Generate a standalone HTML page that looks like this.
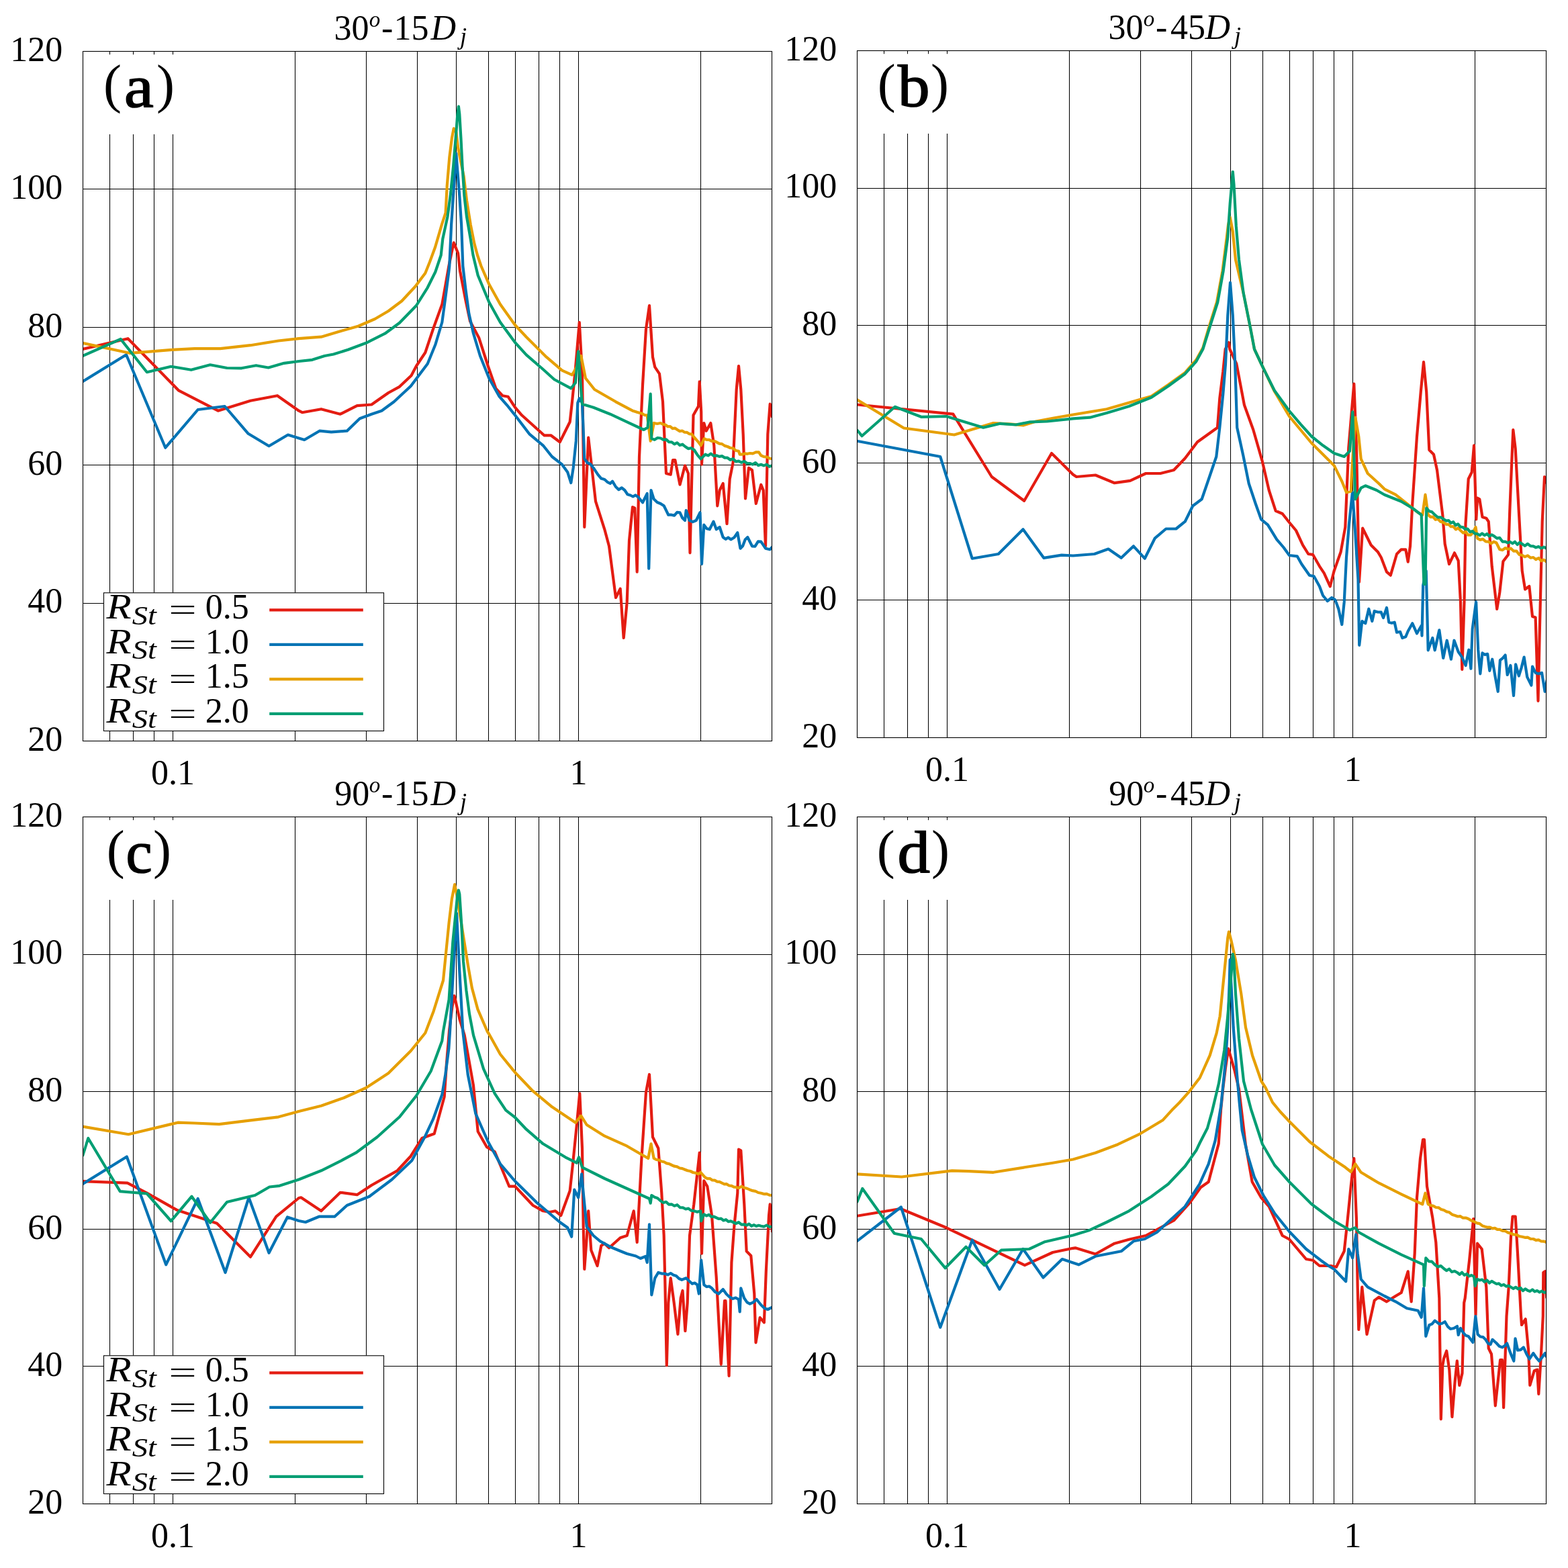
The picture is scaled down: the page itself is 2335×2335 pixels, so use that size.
<!DOCTYPE html><html><head><meta charset="utf-8"><style>html,body{margin:0;padding:0;background:#fff;overflow:hidden}svg{display:block}.t{font-family:'Liberation Serif',serif;font-size:52px;fill:#000} .i{font-style:italic} .lab{font-family:'Liberation Serif',serif;font-size:81px;fill:#000}</style></head><body>
<svg width="2335" height="2335" viewBox="0 0 2335 2335">
<rect width="100%" height="100%" fill="#fff"/>
<defs>
<clipPath id="clipa"><rect x="123.5" y="76.5" width="1026.0" height="1027.0"/></clipPath>
<clipPath id="clipb"><rect x="1276.5" y="75.5" width="1026.0" height="1023.0"/></clipPath>
<clipPath id="clipc"><rect x="123.5" y="1216.5" width="1026.0" height="1023.0"/></clipPath>
<clipPath id="clipd"><rect x="1276.5" y="1216.5" width="1026.0" height="1023.0"/></clipPath>
</defs>
<path d="M163.5 200.0V882.8M163.5 1088.5V1103.5M163.5 76.5V81.2M198.5 200.0V882.8M198.5 1088.5V1103.5M198.5 76.5V81.2M229.5 200.0V882.8M229.5 1088.5V1103.5M229.5 76.5V81.2M257.5 200.0V882.8M257.5 1088.5V1103.5M257.5 76.5V81.2M439.5 76.5V882.8M439.5 1088.5V1103.5M545.5 76.5V882.8M545.5 1088.5V1103.5M621.5 76.5V1103.5M679.5 76.5V1103.5M727.5 76.5V1103.5M767.5 76.5V1103.5M802.5 76.5V1103.5M833.5 76.5V1103.5M861.5 76.5V1103.5M1043.5 76.5V1103.5M123.5 898.5H154.5M571.5 898.5H1149.5M123.5 692.5H1149.5M123.5 487.5H1149.5M123.5 281.5H1149.5" stroke="#000" stroke-width="1.05" fill="none"/>
<g clip-path="url(#clipa)" fill="none" stroke-width="4.2" stroke-linejoin="round" stroke-linecap="butt">
<path d="M123.0,520.0 190.5,504.2 266.3,581.7 324.7,611.7 373.0,596.7 413.0,589.2 445.0,611.7 450.0,614.2 478.3,609.2 506.7,616.7 531.7,604.2 553.3,602.5 578.3,585.0 595.0,575.8 612.5,559.2 620.0,545.0 633.3,525.0 645.0,490.0 658.3,453.3 663.3,425.0 668.3,396.7 671.7,380.0 675.7,361.4 682.1,377.0 685.0,403.3 693.3,446.7 700.0,478.3 713.3,503.3 726.7,545.0 738.3,578.3 748.3,589.2 756.7,590.8 767.0,606.7 777.0,618.3 792.0,631.7 810.3,648.3 820.3,648.3 833.7,658.3 848.7,628.3 852.0,598.3 857.0,548.3 862.8,480.0 867.0,556.7 870.3,785.0 876.2,651.7 887.0,746.7 900.3,788.3 907.0,813.3 917.0,890.0 923.7,876.7 928.7,950.0 933.7,896.7 937.0,805.0 942.0,755.0 945.3,756.7 948.7,851.7 952.0,680.0 957.0,573.3 962.0,490.0 967.0,455.0 972.0,531.7 975.3,546.7 982.0,556.7 987.0,598.3 992.0,705.0 998.7,706.7 1002.0,685.0 1005.3,685.0 1012.5,721.7 1020.0,693.3 1025.0,705.0 1027.5,823.3 1032.5,618.3 1040.0,605.0 1041.7,568.3 1044.2,613.3 1045.0,691.7 1048.3,630.0 1051.7,641.7 1058.3,630.0 1063.3,663.3 1068.3,753.3 1071.7,730.0 1076.7,720.0 1082.5,780.0 1086.7,713.3 1091.7,688.3 1096.7,580.0 1100.0,545.0 1103.3,580.0 1106.7,646.7 1110.0,742.5 1115.0,696.7 1120.0,700.0 1125.8,750.0 1133.3,721.7 1136.7,730.0 1140.0,813.3 1143.3,646.7 1146.7,601.7 1150.0,621.7" stroke="#e41c12"/>
<path d="M123.0,568.3 188.0,528.3 246.3,666.7 294.7,610.0 334.7,605.0 369.7,645.8 400.5,664.2 428.8,647.5 445.0,652.5 453.3,655.0 475.8,641.7 493.3,643.3 516.7,641.7 535.8,623.3 553.3,616.7 568.3,611.7 586.7,598.3 611.7,575.0 636.7,541.7 648.3,513.3 658.3,480.0 663.3,443.3 668.3,405.0 669.3,396.0 672.1,334.3 675.0,291.4 677.9,248.6 679.3,228.6 681.4,255.7 684.3,291.4 687.1,334.3 689.3,396.0 693.3,430.0 698.3,466.7 705.0,496.7 715.0,530.0 728.3,563.3 743.3,590.0 755.0,603.3 767.0,618.3 788.7,646.7 808.7,663.3 822.0,680.0 837.0,691.7 845.3,703.3 850.3,719.0 853.7,696.7 857.8,656.7 860.3,600.0 862.8,593.3 867.0,600.0 870.3,683.0 874.8,689.2 879.2,691.1 883.7,696.7 890.3,706.7 895.3,712.6 900.3,714.0 904.5,717.8 908.7,720.0 912.0,716.7 917.0,725.0 921.4,729.1 925.9,726.4 930.3,730.0 934.5,736.2 938.7,737.5 942.6,739.5 946.4,737.4 950.3,740.0 957.0,748.3 963.7,735.0 966.2,846.7 969.5,730.0 973.7,743.3 978.7,748.0 983.7,750.0 988.7,753.3 995.3,766.7 1000.0,766.7 1004.2,767.6 1008.3,762.9 1012.5,763.3 1016.2,771.3 1020.0,775.0 1021.7,760.0 1026.7,775.0 1031.7,777.2 1036.7,775.0 1042.5,763.3 1045.0,840.0 1048.3,781.7 1052.5,787.3 1056.7,788.3 1062.5,776.7 1066.7,788.3 1071.7,785.0 1076.7,800.0 1080.6,802.9 1084.4,800.5 1088.3,803.3 1093.3,800.5 1098.3,793.3 1102.5,816.7 1106.1,813.0 1109.7,803.5 1113.3,800.0 1120.0,813.3 1124.4,813.6 1128.9,806.4 1133.3,806.7 1140.0,816.7 1146.7,818.3 1150.0,814.2" stroke="#0273b4"/>
<path d="M123.0,510.8 193.0,525.8 216.3,524.2 256.3,520.8 289.7,519.2 328.0,519.2 373.0,514.2 414.7,507.5 445.0,504.2 478.3,501.7 503.3,494.2 533.3,485.8 558.3,475.0 578.3,463.3 598.3,448.3 618.3,426.7 633.3,406.7 640.0,390.0 647.9,368.6 657.9,334.3 663.6,317.0 665.7,277.0 669.3,234.3 672.9,205.7 675.7,191.4 679.3,197.0 682.1,220.0 690.7,262.9 695.0,298.6 700.7,334.3 706.4,362.9 711.0,380.0 716.4,396.0 728.3,423.3 745.0,453.3 767.0,484.0 783.7,501.7 813.7,531.7 837.0,551.7 852.0,558.3 857.8,548.3 865.3,530.0 872.0,563.3 885.3,580.0 917.0,598.3 942.0,611.7 945.6,612.8 949.2,613.9 952.9,615.0 956.5,616.1 960.1,618.2 963.7,618.3 968.7,656.7 973.7,630.0 978.7,631.0 983.7,630.0 987.3,631.9 990.8,632.5 994.4,635.2 998.0,635.0 1001.6,638.1 1005.1,637.6 1008.7,640.0 1012.3,642.1 1015.9,641.5 1019.5,643.7 1023.1,643.9 1026.7,646.2 1030.3,646.7 1034.8,652.5 1039.2,657.3 1043.7,663.3 1048.7,653.3 1052.4,654.9 1056.0,654.8 1059.7,656.9 1063.3,656.8 1067.0,658.3 1071.1,660.6 1075.2,661.1 1079.2,663.9 1083.3,665.0 1087.5,667.0 1091.7,667.4 1095.8,671.0 1100.0,671.7 1101.7,676.7 1105.5,676.6 1109.2,675.4 1113.0,675.8 1116.7,675.0 1121.1,675.4 1125.6,673.4 1130.0,673.3 1133.3,678.3 1137.5,680.1 1141.7,680.3 1145.8,682.5 1150.0,683.3" stroke="#e69f00"/>
<path d="M123.0,530.0 179.7,505.0 218.8,554.2 254.7,545.8 284.7,550.8 313.0,543.3 338.0,548.0 359.7,548.3 381.3,544.2 399.7,547.5 423.0,540.8 445.0,538.0 465.0,535.8 483.3,530.0 496.7,527.5 518.3,520.8 545.0,510.8 573.3,496.7 595.0,480.8 620.0,455.0 636.7,428.3 648.3,405.0 656.7,380.0 659.3,355.7 666.4,322.9 670.7,291.4 675.0,248.6 678.6,205.7 681.4,170.0 682.9,158.6 684.3,170.0 686.4,205.7 688.6,248.6 691.4,291.4 695.0,322.9 700.7,355.7 704.5,380.0 711.7,410.0 728.3,450.0 745.0,480.0 767.0,510.0 783.7,528.3 808.7,550.0 825.3,565.0 850.3,578.3 857.0,570.0 861.2,523.3 865.3,581.7 867.0,601.7 883.7,606.7 908.7,616.7 933.7,628.3 958.7,640.0 964.5,636.7 968.7,586.7 970.3,653.3 974.8,654.8 979.2,652.0 983.7,652.5 987.9,654.8 992.0,654.4 996.1,658.1 1000.3,658.3 1004.3,661.4 1008.3,659.3 1012.3,663.1 1016.3,661.7 1020.3,665.0 1024.8,668.1 1029.2,667.2 1033.7,670.0 1038.7,677.6 1043.7,683.3 1050.3,676.7 1054.5,678.4 1058.7,675.6 1062.8,678.8 1067.0,678.3 1071.1,679.9 1075.2,679.1 1079.2,681.6 1083.3,681.7 1087.5,684.8 1091.7,683.2 1095.8,687.3 1100.0,686.7 1104.2,688.9 1108.3,686.8 1112.5,690.0 1116.7,690.0 1120.8,691.6 1125.0,689.1 1129.2,693.1 1133.3,691.7 1137.5,693.4 1141.7,691.6 1145.8,694.9 1150.0,693.3" stroke="#029e73"/>
</g>
<rect x="123.5" y="76.5" width="1026.0" height="1027.0" fill="none" stroke="#000" stroke-width="1.1"/>
<text x="93.3" y="1117.8" text-anchor="end" class="t">20</text>
<text x="93.3" y="912.4" text-anchor="end" class="t">40</text>
<text x="93.3" y="707.0" text-anchor="end" class="t">60</text>
<text x="93.3" y="501.6" text-anchor="end" class="t">80</text>
<text x="93.3" y="296.2" text-anchor="end" class="t">100</text>
<text x="93.3" y="90.8" text-anchor="end" class="t">120</text>
<text x="257.5" y="1168.2" text-anchor="middle" class="t">0.1</text>
<text x="861.4" y="1168.2" text-anchor="middle" class="t">1</text>
<text x="497.4" y="59.2" class="t">30</text>
<text x="549.8" y="39.5" class="t i" style="font-size:33px">o</text>
<text x="568.1" y="59.2" class="t">-</text>
<text x="586.4" y="59.2" class="t">15</text>
<text x="641.6" y="59.2" class="t i">D</text>
<text x="684.9" y="65.9" class="t i" style="font-size:36px">j</text>
<text x="154.0" y="152.2" class="lab">(</text>
<text transform="translate(208.0,159.2) scale(1.12,1)" x="-20.5" y="0" class="lab" style="font-size:88px;stroke:#000;stroke-width:1.6px">a</text>
<text x="233.0" y="152.2" class="lab">)</text>
<rect x="154.5" y="882.8" width="417.0" height="205.7" fill="#fff" stroke="#000" stroke-width="1.1"/>
<text transform="translate(158.5,920.9) scale(1.17,1)" class="t i">R</text>
<text transform="translate(196.8,929.6) scale(1.16,1)" class="t i" style="font-size:40px">St</text>
<text transform="translate(251.3,923.1) scale(1.6,1)" class="t" style="font-size:46px">=</text>
<text x="305.8" y="920.9" class="t">0.5</text>
<path d="M401.2 908.4H540.8" stroke="#e41c12" stroke-width="4.2"/>
<text transform="translate(158.5,972.5) scale(1.17,1)" class="t i">R</text>
<text transform="translate(196.8,981.2) scale(1.16,1)" class="t i" style="font-size:40px">St</text>
<text transform="translate(251.3,974.7) scale(1.6,1)" class="t" style="font-size:46px">=</text>
<text x="305.8" y="972.5" class="t">1.0</text>
<path d="M401.2 959.9H540.8" stroke="#0273b4" stroke-width="4.2"/>
<text transform="translate(158.5,1024.1) scale(1.17,1)" class="t i">R</text>
<text transform="translate(196.8,1032.8) scale(1.16,1)" class="t i" style="font-size:40px">St</text>
<text transform="translate(251.3,1026.3) scale(1.6,1)" class="t" style="font-size:46px">=</text>
<text x="305.8" y="1024.1" class="t">1.5</text>
<path d="M401.2 1011.4H540.8" stroke="#e69f00" stroke-width="4.2"/>
<text transform="translate(158.5,1075.7) scale(1.17,1)" class="t i">R</text>
<text transform="translate(196.8,1084.4) scale(1.16,1)" class="t i" style="font-size:40px">St</text>
<text transform="translate(251.3,1077.9) scale(1.6,1)" class="t" style="font-size:46px">=</text>
<text x="305.8" y="1075.7" class="t">2.0</text>
<path d="M401.2 1062.9H540.8" stroke="#029e73" stroke-width="4.2"/>
<path d="M1316.5 199.0V1098.5M1316.5 75.5V80.2M1351.5 199.0V1098.5M1351.5 75.5V80.2M1382.5 199.0V1098.5M1382.5 75.5V80.2M1410.5 199.0V1098.5M1410.5 75.5V80.2M1592.5 75.5V1098.5M1698.5 75.5V1098.5M1774.5 75.5V1098.5M1832.5 75.5V1098.5M1880.5 75.5V1098.5M1920.5 75.5V1098.5M1955.5 75.5V1098.5M1986.5 75.5V1098.5M2014.5 75.5V1098.5M2196.5 75.5V1098.5M1276.5 893.5H2302.5M1276.5 689.5H2302.5M1276.5 484.5H2302.5M1276.5 280.5H2302.5" stroke="#000" stroke-width="1.05" fill="none"/>
<g clip-path="url(#clipb)" fill="none" stroke-width="4.2" stroke-linejoin="round" stroke-linecap="butt">
<path d="M1276.0,602.5 1419.3,616.7 1476.8,710.0 1525.2,745.8 1566.0,675.0 1598.0,706.7 1603.0,710.0 1631.3,707.5 1659.7,719.2 1683.0,715.8 1706.3,705.0 1728.0,705.0 1748.0,700.0 1764.7,682.5 1783.0,658.3 1813.0,636.7 1816.3,593.3 1821.3,553.3 1824.7,520.0 1830.0,510.0 1831.3,520.0 1841.3,541.7 1853.0,603.3 1866.3,640.0 1879.7,686.7 1889.7,730.0 1899.7,760.8 1909.7,765.0 1920.0,778.0 1930.0,790.0 1940.0,811.7 1948.3,825.0 1955.0,825.8 1965.0,843.3 1971.7,853.3 1980.8,873.3 1986.7,850.0 1996.7,821.7 2003.3,785.0 2008.3,666.7 2016.3,571.7 2020.0,666.7 2024.0,866.7 2029.2,786.7 2041.7,811.7 2051.7,821.7 2056.7,830.0 2065.0,851.7 2070.8,856.7 2080.0,825.0 2086.7,818.3 2093.3,818.3 2096.7,836.7 2100.0,813.3 2103.3,750.0 2110.0,650.0 2115.8,583.3 2120.0,539.2 2124.2,583.3 2128.3,670.0 2135.0,676.7 2140.0,700.0 2148.3,766.7 2151.7,810.0 2158.0,840.0 2166.0,823.3 2171.7,835.0 2175.0,896.7 2177.3,997.0 2180.5,896.7 2182.5,780.0 2186.7,713.3 2191.7,703.3 2195.0,663.3 2198.3,773.3 2200.0,741.7 2203.3,743.3 2207.5,770.0 2213.3,771.7 2216.7,776.7 2221.7,843.3 2229.2,907.0 2233.3,882.0 2238.4,836.0 2246.0,826.0 2248.3,760.0 2251.7,676.7 2253.3,640.0 2256.7,668.3 2261.7,760.0 2266.7,850.0 2271.1,877.6 2277.3,873.0 2282.0,918.0 2286.6,919.6 2290.5,1043.8 2292.9,935.1 2296.7,776.7 2300.0,710.0 2303.3,720.0" stroke="#e41c12"/>
<path d="M1276.0,656.7 1400.2,680.0 1447.7,831.7 1486.8,825.0 1523.5,788.3 1554.3,830.8 1581.0,826.7 1598.0,827.5 1629.7,825.0 1650.5,817.5 1669.7,830.8 1688.0,813.3 1704.7,831.7 1719.7,801.7 1736.3,787.5 1751.3,787.5 1764.7,776.7 1776.3,753.3 1789.7,743.3 1800.5,711.7 1811.3,680.0 1816.3,636.7 1821.3,586.7 1825.0,542.0 1828.3,470.0 1832.0,420.8 1835.8,470.0 1839.2,542.0 1842.2,636.7 1851.3,678.3 1859.7,720.0 1869.7,750.0 1878.0,773.3 1888.0,781.7 1901.3,803.3 1911.3,815.0 1920.0,827.0 1931.7,828.3 1938.3,840.0 1950.0,856.7 1956.7,858.3 1965.0,873.3 1970.0,886.7 1976.7,895.0 1983.3,890.0 1988.3,893.3 1993.3,906.7 1998.3,930.0 2001.7,896.7 2005.0,830.0 2009.0,780.0 2014.0,733.0 2018.0,790.0 2022.5,863.3 2024.2,960.8 2028.3,925.0 2033.3,928.3 2038.3,906.7 2043.3,925.0 2046.7,910.0 2051.7,911.5 2056.7,911.7 2060.0,920.0 2065.0,905.0 2068.3,926.7 2072.5,927.8 2076.7,926.7 2080.0,941.7 2085.0,940.8 2088.3,950.0 2093.3,948.3 2096.7,940.0 2103.3,928.3 2110.0,943.3 2116.7,931.7 2117.5,946.7 2119.2,871.7 2123.7,850.0 2126.7,968.3 2133.3,950.0 2136.7,968.3 2143.3,938.3 2149.2,980.0 2154.7,953.7 2160.9,981.7 2165.5,953.7 2171.7,970.8 2177.2,978.6 2182.6,991.0 2187.3,967.7 2190.4,995.7 2192.7,936.6 2198.1,896.3 2201.2,967.7 2204.3,1003.4 2207.5,972.4 2211.3,974.9 2215.2,973.9 2218.3,998.8 2222.2,981.7 2226.4,1006.5 2230.7,1029.8 2233.9,983.2 2237.8,980.1 2241.6,975.5 2244.7,1005.0 2249.4,991.0 2254.0,1036.0 2257.1,989.4 2261.8,1006.5 2265.7,994.1 2269.6,978.6 2274.2,1008.1 2280.4,1020.5 2282.0,992.5 2286.6,1001.9 2291.3,1003.3 2296.0,1001.9 2300.6,1029.8 2303.7,1012.7" stroke="#0273b4"/>
<path d="M1276.0,595.0 1346.0,637.5 1421.0,647.5 1479.3,630.0 1506.0,631.7 1524.3,633.3 1542.7,627.5 1569.3,622.5 1598.0,617.5 1648.0,609.2 1714.7,590.0 1739.7,573.0 1764.7,555.0 1781.3,536.0 1791.3,518.0 1800.5,486.7 1812.0,450.0 1820.5,403.3 1826.0,360.0 1829.0,335.0 1831.7,323.3 1835.8,345.0 1840.0,386.7 1851.7,436.7 1861.7,486.7 1868.0,520.0 1878.3,542.0 1898.0,583.0 1920.0,620.0 1953.3,660.0 1986.7,693.3 1998.3,716.7 2005.0,733.3 2011.7,731.7 2013.3,700.0 2018.3,621.7 2023.3,650.0 2026.7,683.3 2036.7,705.0 2053.3,720.0 2061.7,728.3 2078.3,736.7 2095.0,750.0 2111.7,763.3 2118.3,766.7 2122.5,736.7 2126.7,766.7 2130.4,769.9 2134.0,769.6 2137.7,773.8 2141.3,772.9 2145.0,776.7 2150.0,778.3 2153.6,780.8 2157.1,780.8 2160.7,784.2 2164.3,784.1 2167.9,788.4 2171.4,786.2 2175.0,790.0 2178.8,793.5 2182.5,791.9 2186.2,796.7 2190.0,796.7 2193.8,792.7 2197.5,785.0 2200.0,801.7 2204.2,803.9 2208.3,802.9 2212.5,806.3 2216.7,806.7 2220.6,809.4 2224.4,806.7 2228.3,808.3 2233.3,818.3 2237.5,819.1 2241.7,816.0 2245.8,817.8 2250.0,816.7 2254.2,820.7 2258.3,820.6 2262.5,826.0 2266.7,826.7 2270.8,829.2 2275.0,827.3 2279.2,830.7 2283.3,830.0 2287.2,833.2 2291.2,831.0 2295.1,835.2 2299.1,833.7 2303.0,836.7" stroke="#e69f00"/>
<path d="M1276.0,640.0 1283.5,649.2 1332.7,605.8 1371.8,620.8 1409.3,620.0 1464.3,636.7 1489.3,630.8 1512.7,632.5 1534.3,628.3 1559.3,627.5 1598.0,623.3 1623.0,621.7 1648.0,615.0 1681.3,605.0 1714.7,591.7 1739.7,575.0 1764.7,556.7 1781.3,538.3 1791.3,520.0 1801.7,486.7 1813.3,450.0 1821.7,403.3 1828.3,353.3 1831.7,303.3 1834.2,275.0 1835.8,255.8 1837.5,275.0 1840.8,336.7 1845.0,386.7 1851.7,436.7 1861.7,486.7 1868.0,520.0 1878.3,542.0 1881.3,548.3 1898.0,581.7 1920.0,612.0 1936.7,631.7 1953.3,650.0 1970.0,663.3 1986.7,675.0 2001.7,680.0 2010.0,671.7 2014.2,613.3 2018.3,743.3 2026.7,726.7 2033.3,723.3 2050.0,730.0 2061.7,736.7 2086.7,746.7 2103.3,756.7 2116.7,766.7 2120.5,870.0 2122.5,870.0 2124.2,756.7 2128.4,761.3 2132.5,762.4 2136.7,766.7 2141.1,770.3 2145.6,770.4 2150.0,773.3 2153.5,775.6 2157.1,775.0 2160.6,778.8 2164.2,777.1 2167.7,782.4 2171.2,780.3 2174.8,784.6 2178.3,785.0 2181.9,787.9 2185.5,787.6 2189.2,792.1 2192.8,790.9 2196.4,794.7 2200.0,795.0 2203.6,797.2 2207.1,794.3 2210.7,797.2 2214.3,795.0 2217.9,798.6 2221.4,796.3 2225.0,798.3 2229.2,801.6 2233.3,800.9 2237.5,806.6 2241.7,806.7 2245.3,808.4 2248.8,806.9 2252.4,809.4 2256.0,806.8 2259.6,811.0 2263.1,807.7 2266.7,810.0 2270.8,812.9 2275.0,809.8 2279.2,813.2 2283.3,813.3 2287.2,815.3 2291.2,813.9 2295.1,816.4 2299.1,814.7 2303.0,816.7" stroke="#029e73"/>
</g>
<rect x="1276.5" y="75.5" width="1026.0" height="1023.0" fill="none" stroke="#000" stroke-width="1.1"/>
<text x="1246.3" y="1112.8" text-anchor="end" class="t">20</text>
<text x="1246.3" y="908.2" text-anchor="end" class="t">40</text>
<text x="1246.3" y="703.6" text-anchor="end" class="t">60</text>
<text x="1246.3" y="499.0" text-anchor="end" class="t">80</text>
<text x="1246.3" y="294.4" text-anchor="end" class="t">100</text>
<text x="1246.3" y="89.8" text-anchor="end" class="t">120</text>
<text x="1410.5" y="1163.2" text-anchor="middle" class="t">0.1</text>
<text x="2014.4" y="1163.2" text-anchor="middle" class="t">1</text>
<text x="1650.4" y="58.2" class="t">30</text>
<text x="1702.8" y="38.5" class="t i" style="font-size:33px">o</text>
<text x="1721.1" y="58.2" class="t">-</text>
<text x="1743.0" y="58.2" class="t">45</text>
<text x="1794.6" y="58.2" class="t i">D</text>
<text x="1837.9" y="64.9" class="t i" style="font-size:36px">j</text>
<text x="1306.8" y="151.2" class="lab">(</text>
<text transform="translate(1359.0,158.2) scale(1.08,1)" x="-20.3" y="0" class="lab" style="font-size:88px;stroke:#000;stroke-width:1.6px">b</text>
<text x="1386.0" y="151.2" class="lab">)</text>
<path d="M163.5 1340.0V2018.8M163.5 2224.5V2239.5M163.5 1216.5V1221.2M198.5 1340.0V2018.8M198.5 2224.5V2239.5M198.5 1216.5V1221.2M229.5 1340.0V2018.8M229.5 2224.5V2239.5M229.5 1216.5V1221.2M257.5 1340.0V2018.8M257.5 2224.5V2239.5M257.5 1216.5V1221.2M439.5 1216.5V2018.8M439.5 2224.5V2239.5M545.5 1216.5V2018.8M545.5 2224.5V2239.5M621.5 1216.5V2239.5M679.5 1216.5V2239.5M727.5 1216.5V2239.5M767.5 1216.5V2239.5M802.5 1216.5V2239.5M833.5 1216.5V2239.5M861.5 1216.5V2239.5M1043.5 1216.5V2239.5M123.5 2034.5H154.5M571.5 2034.5H1149.5M123.5 1830.5H1149.5M123.5 1625.5H1149.5M123.5 1421.5H1149.5" stroke="#000" stroke-width="1.05" fill="none"/>
<g clip-path="url(#clipc)" fill="none" stroke-width="4.2" stroke-linejoin="round" stroke-linecap="butt">
<path d="M123.0,1759.2 189.7,1761.7 218.8,1776.7 263.0,1801.7 323.0,1821.7 346.3,1845.0 373.0,1871.7 411.3,1811.7 445.0,1784.0 448.3,1783.3 478.3,1803.3 506.7,1775.8 531.7,1779.2 553.3,1765.0 591.7,1743.3 611.7,1721.7 628.3,1695.0 646.7,1688.3 661.7,1633.3 665.0,1583.3 669.2,1533.3 673.3,1500.0 676.4,1482.9 678.3,1490.0 684.3,1517.1 691.7,1541.7 705.0,1616.7 711.7,1685.0 725.0,1708.3 736.7,1715.0 758.3,1766.7 767.0,1766.7 793.7,1795.0 808.7,1803.3 818.7,1805.0 827.0,1803.3 835.3,1810.0 848.7,1773.3 853.7,1726.7 858.7,1676.7 863.3,1628.3 867.0,1710.0 868.7,1826.7 870.3,1890.0 873.7,1843.3 876.2,1803.3 880.3,1861.7 889.5,1885.0 895.3,1855.0 900.3,1851.7 907.0,1858.3 923.7,1843.3 933.7,1840.0 943.7,1803.3 948.7,1850.0 955.3,1726.7 962.0,1626.7 967.0,1600.0 972.0,1693.3 980.3,1710.0 985.3,1776.7 988.7,1840.0 990.3,1906.7 992.8,2033.3 995.3,1940.0 998.7,1903.3 1003.7,1940.0 1009.4,1986.8 1013.7,1933.3 1016.5,1922.0 1020.4,1982.0 1023.7,1940.0 1027.0,1840.0 1033.3,1793.3 1041.7,1716.7 1045.0,1866.7 1048.3,1758.3 1053.3,1766.7 1060.0,1810.0 1066.7,1901.7 1073.8,2031.7 1079.0,1937.0 1080.5,1937.0 1085.6,2049.0 1089.4,1880.0 1093.3,1826.7 1098.3,1776.7 1100.0,1711.7 1103.3,1713.3 1108.3,1793.3 1111.7,1863.3 1118.3,1870.0 1123.3,1926.7 1125.5,1999.3 1131.7,1962.0 1137.9,1969.4 1140.8,1893.3 1145.0,1810.0 1146.7,1793.3 1150.0,1835.0" stroke="#e41c12"/>
<path d="M123.0,1763.3 188.8,1722.5 247.2,1883.3 294.7,1785.0 335.5,1895.0 370.5,1783.3 400.5,1865.8 428.0,1812.5 445.0,1818.0 455.0,1820.0 475.0,1811.7 498.3,1811.7 516.7,1795.0 550.0,1781.7 583.3,1756.7 613.3,1728.3 633.3,1691.7 645.0,1666.7 658.3,1630.0 663.3,1600.0 668.3,1561.7 670.0,1536.0 675.7,1431.4 678.6,1388.6 680.0,1360.0 681.4,1388.6 684.3,1445.7 689.3,1536.0 696.7,1600.0 708.3,1658.3 726.7,1700.0 745.0,1733.3 767.0,1759.0 800.3,1791.7 833.7,1820.0 845.3,1828.3 851.2,1841.7 855.3,1771.7 861.2,1783.3 866.2,1748.3 868.7,1776.7 873.7,1826.7 883.7,1840.0 893.7,1848.3 908.7,1856.7 923.7,1863.0 933.7,1867.0 947.0,1870.5 953.7,1874.0 961.2,1871.0 963.7,1880.0 967.0,1823.3 970.3,1928.3 975.3,1903.3 980.3,1895.0 985.3,1896.6 990.3,1896.7 994.5,1898.3 998.7,1896.0 1002.9,1898.7 1007.0,1900.0 1011.1,1904.0 1015.3,1905.8 1021.7,1903.3 1027.0,1908.3 1030.8,1911.7 1034.5,1910.5 1038.3,1913.3 1040.8,1926.7 1044.2,1876.7 1048.3,1913.3 1052.2,1916.1 1056.1,1915.5 1060.0,1918.3 1065.0,1924.0 1070.0,1926.7 1076.7,1920.0 1081.7,1927.0 1086.7,1931.7 1091.1,1933.9 1095.6,1932.6 1100.0,1935.0 1101.7,1953.3 1103.3,1918.3 1108.3,1933.3 1112.5,1939.4 1116.7,1941.7 1121.7,1939.3 1126.7,1935.0 1133.3,1943.3 1138.3,1948.1 1143.3,1950.0 1150.0,1946.7" stroke="#0273b4"/>
<path d="M123.0,1677.5 191.3,1689.2 264.7,1671.7 289.7,1672.5 326.3,1674.2 373.0,1668.3 414.7,1663.3 445.0,1655.0 478.3,1646.7 511.7,1635.0 545.0,1620.0 578.3,1598.3 611.7,1565.0 633.3,1538.3 645.7,1505.7 660.0,1460.0 664.3,1417.1 668.6,1374.3 672.9,1338.6 677.1,1317.1 680.0,1331.4 685.7,1367.1 691.4,1402.9 697.1,1438.6 702.9,1471.4 711.4,1502.9 725.7,1536.0 728.3,1540.0 745.0,1570.0 767.0,1597.0 792.0,1623.3 822.0,1648.3 857.0,1671.7 865.3,1661.7 873.7,1675.0 900.3,1691.7 933.7,1706.7 965.3,1725.0 969.5,1703.3 973.7,1725.0 977.5,1727.0 981.3,1727.4 985.1,1729.5 988.9,1730.2 992.7,1732.4 996.5,1733.1 1000.3,1735.0 1004.2,1736.7 1008.2,1737.3 1012.1,1739.5 1016.1,1740.1 1020.0,1741.7 1024.0,1743.3 1028.0,1744.0 1032.0,1746.0 1036.0,1746.7 1040.0,1748.3 1043.3,1745.8 1050.0,1753.3 1053.6,1755.1 1057.1,1755.1 1060.7,1757.5 1064.3,1757.7 1067.9,1759.6 1071.4,1759.9 1075.0,1761.7 1078.6,1763.4 1082.1,1763.2 1085.7,1765.5 1089.3,1765.8 1092.9,1767.6 1096.4,1767.9 1100.0,1769.2 1104.2,1766.7 1108.4,1768.9 1112.5,1769.8 1116.7,1771.7 1120.8,1773.2 1125.0,1773.8 1129.2,1776.0 1133.3,1776.7 1137.5,1778.1 1141.7,1777.9 1145.8,1779.7 1150.0,1780.0" stroke="#e69f00"/>
<path d="M123.0,1721.7 131.3,1695.0 178.8,1774.2 218.8,1777.5 254.7,1818.3 285.5,1781.7 313.0,1820.8 338.0,1790.0 379.7,1780.0 401.3,1767.5 416.3,1765.8 445.0,1756.5 478.3,1743.3 508.3,1728.3 530.0,1716.7 561.7,1693.3 595.0,1663.3 620.0,1631.7 641.7,1595.0 658.3,1550.0 660.0,1536.0 668.6,1488.6 674.3,1402.9 678.6,1360.0 681.4,1331.4 682.9,1325.7 684.3,1331.4 687.1,1374.3 690.0,1431.4 694.3,1474.3 699.0,1510.0 705.0,1541.7 720.0,1591.7 736.7,1628.3 753.3,1653.3 767.0,1664.0 783.7,1681.7 808.7,1703.3 842.0,1723.3 858.7,1731.7 862.0,1723.3 867.0,1738.3 900.3,1755.0 933.7,1770.0 967.0,1785.0 968.7,1791.7 970.3,1780.0 974.8,1782.8 979.2,1784.2 983.7,1788.3 987.8,1791.0 991.9,1789.8 995.9,1793.6 1000.0,1793.3 1004.2,1795.7 1008.5,1794.2 1012.8,1798.2 1017.0,1798.3 1021.1,1800.5 1025.2,1799.6 1029.2,1802.6 1033.3,1803.3 1038.3,1804.8 1043.3,1803.3 1044.2,1818.3 1048.3,1808.3 1052.0,1810.5 1055.7,1808.9 1059.3,1812.0 1063.0,1811.7 1066.7,1813.3 1070.3,1815.0 1073.8,1814.7 1077.4,1817.5 1081.0,1816.2 1084.6,1819.2 1088.1,1818.4 1091.7,1820.0 1095.8,1822.0 1100.0,1820.2 1104.2,1823.7 1108.3,1823.3 1111.9,1824.6 1115.4,1822.6 1119.0,1825.8 1122.6,1824.1 1126.2,1825.9 1129.7,1824.8 1133.3,1825.8 1137.5,1826.6 1141.7,1824.7 1145.8,1827.0 1150.0,1826.7" stroke="#029e73"/>
</g>
<rect x="123.5" y="1216.5" width="1026.0" height="1023.0" fill="none" stroke="#000" stroke-width="1.1"/>
<text x="93.3" y="2253.8" text-anchor="end" class="t">20</text>
<text x="93.3" y="2049.2" text-anchor="end" class="t">40</text>
<text x="93.3" y="1844.6" text-anchor="end" class="t">60</text>
<text x="93.3" y="1640.0" text-anchor="end" class="t">80</text>
<text x="93.3" y="1435.4" text-anchor="end" class="t">100</text>
<text x="93.3" y="1230.8" text-anchor="end" class="t">120</text>
<text x="257.5" y="2304.2" text-anchor="middle" class="t">0.1</text>
<text x="861.4" y="2304.2" text-anchor="middle" class="t">1</text>
<text x="498.2" y="1199.2" class="t">90</text>
<text x="549.8" y="1179.5" class="t i" style="font-size:33px">o</text>
<text x="568.1" y="1199.2" class="t">-</text>
<text x="586.4" y="1199.2" class="t">15</text>
<text x="641.6" y="1199.2" class="t i">D</text>
<text x="684.9" y="1205.9" class="t i" style="font-size:36px">j</text>
<text x="158.8" y="1292.2" class="lab">(</text>
<text transform="translate(207.4,1299.2) scale(1.0,1)" x="-19.8" y="0" class="lab" style="font-size:88px;stroke:#000;stroke-width:1.6px">c</text>
<text x="228.0" y="1292.2" class="lab">)</text>
<rect x="154.5" y="2018.8" width="417.0" height="205.7" fill="#fff" stroke="#000" stroke-width="1.1"/>
<text transform="translate(158.5,2056.9) scale(1.17,1)" class="t i">R</text>
<text transform="translate(196.8,2065.6) scale(1.16,1)" class="t i" style="font-size:40px">St</text>
<text transform="translate(251.3,2059.1) scale(1.6,1)" class="t" style="font-size:46px">=</text>
<text x="305.8" y="2056.9" class="t">0.5</text>
<path d="M401.2 2044.4H540.8" stroke="#e41c12" stroke-width="4.2"/>
<text transform="translate(158.5,2108.5) scale(1.17,1)" class="t i">R</text>
<text transform="translate(196.8,2117.2) scale(1.16,1)" class="t i" style="font-size:40px">St</text>
<text transform="translate(251.3,2110.7) scale(1.6,1)" class="t" style="font-size:46px">=</text>
<text x="305.8" y="2108.5" class="t">1.0</text>
<path d="M401.2 2095.9H540.8" stroke="#0273b4" stroke-width="4.2"/>
<text transform="translate(158.5,2160.1) scale(1.17,1)" class="t i">R</text>
<text transform="translate(196.8,2168.8) scale(1.16,1)" class="t i" style="font-size:40px">St</text>
<text transform="translate(251.3,2162.3) scale(1.6,1)" class="t" style="font-size:46px">=</text>
<text x="305.8" y="2160.1" class="t">1.5</text>
<path d="M401.2 2147.4H540.8" stroke="#e69f00" stroke-width="4.2"/>
<text transform="translate(158.5,2211.7) scale(1.17,1)" class="t i">R</text>
<text transform="translate(196.8,2220.4) scale(1.16,1)" class="t i" style="font-size:40px">St</text>
<text transform="translate(251.3,2213.9) scale(1.6,1)" class="t" style="font-size:46px">=</text>
<text x="305.8" y="2211.7" class="t">2.0</text>
<path d="M401.2 2198.9H540.8" stroke="#029e73" stroke-width="4.2"/>
<path d="M1316.5 1340.0V2239.5M1316.5 1216.5V1221.2M1351.5 1340.0V2239.5M1351.5 1216.5V1221.2M1382.5 1340.0V2239.5M1382.5 1216.5V1221.2M1410.5 1340.0V2239.5M1410.5 1216.5V1221.2M1592.5 1216.5V2239.5M1698.5 1216.5V2239.5M1774.5 1216.5V2239.5M1832.5 1216.5V2239.5M1880.5 1216.5V2239.5M1920.5 1216.5V2239.5M1955.5 1216.5V2239.5M1986.5 1216.5V2239.5M2014.5 1216.5V2239.5M2196.5 1216.5V2239.5M1276.5 2034.5H2302.5M1276.5 1830.5H2302.5M1276.5 1625.5H2302.5M1276.5 1421.5H2302.5" stroke="#000" stroke-width="1.05" fill="none"/>
<g clip-path="url(#clipd)" fill="none" stroke-width="4.2" stroke-linejoin="round" stroke-linecap="butt">
<path d="M1276.0,1810.8 1341.0,1800.0 1409.3,1828.3 1447.7,1846.7 1526.0,1884.2 1567.7,1865.0 1598.0,1858.8 1601.3,1858.3 1631.3,1867.5 1659.7,1851.7 1681.3,1845.8 1706.3,1840.0 1748.0,1817.5 1771.3,1791.7 1788.0,1768.3 1799.7,1760.0 1814.7,1703.3 1818.0,1653.3 1821.3,1620.0 1825.0,1590.0 1829.2,1561.7 1838.3,1593.3 1845.0,1621.7 1854.7,1703.3 1864.7,1760.0 1878.0,1783.3 1889.7,1796.7 1909.7,1840.0 1920.0,1845.5 1945.0,1875.0 1955.0,1876.7 1965.0,1885.0 1981.7,1885.0 1990.0,1886.7 2001.7,1863.3 2006.7,1816.7 2011.7,1766.7 2016.3,1725.0 2020.0,1816.7 2021.7,1916.7 2023.3,1980.0 2028.3,1916.7 2035.5,1987.0 2046.7,1936.7 2053.3,1931.7 2065.0,1938.3 2078.3,1930.0 2086.7,1925.0 2096.7,1893.3 2101.7,1938.3 2106.7,1866.7 2110.0,1783.3 2115.0,1725.0 2119.0,1697.0 2121.0,1697.0 2125.0,1766.7 2133.3,1813.3 2138.3,1850.0 2143.3,1933.3 2145.8,2113.3 2148.3,2033.3 2150.0,2023.3 2154.2,2011.7 2158.3,2040.0 2162.4,2110.0 2166.7,2056.7 2169.8,2026.7 2173.3,2063.0 2177.5,2045.0 2180.2,1940.0 2181.7,1933.3 2188.3,1875.0 2194.2,1815.0 2197.5,1958.3 2200.0,1851.7 2206.7,1860.0 2213.3,1916.7 2216.7,2007.8 2221.0,2016.5 2226.8,2093.3 2234.1,2025.2 2237.0,2025.2 2239.1,2096.2 2243.5,1960.0 2246.7,1916.7 2250.0,1841.7 2252.5,1811.7 2256.7,1811.7 2260.0,1866.7 2265.0,1960.0 2266.0,1973.0 2271.7,1964.3 2276.1,2010.7 2278.3,2062.9 2284.8,2041.2 2289.1,2039.7 2291.3,2075.9 2294.9,2018.0 2297.8,1960.0 2298.3,1895.0 2300.8,1893.3 2303.3,1933.3" stroke="#e41c12"/>
<path d="M1276.0,1848.3 1341.8,1797.5 1400.2,1976.7 1447.7,1846.7 1488.5,1920.0 1523.5,1860.0 1553.5,1902.5 1581.8,1875.0 1598.0,1880.5 1606.3,1883.3 1631.3,1870.8 1669.7,1863.3 1688.0,1848.3 1704.7,1845.0 1723.0,1835.0 1764.7,1796.7 1786.3,1763.3 1799.7,1733.3 1809.7,1698.3 1818.3,1646.7 1825.0,1580.0 1828.3,1530.0 1830.8,1463.3 1831.7,1429.2 1833.3,1463.3 1836.7,1530.0 1841.7,1596.7 1845.5,1640.0 1849.7,1683.3 1858.0,1720.0 1868.0,1753.3 1881.3,1780.0 1898.0,1806.7 1920.0,1834.0 1945.0,1860.0 1966.7,1876.7 1978.3,1885.0 1986.7,1890.0 2004.2,1908.3 2008.3,1860.0 2014.2,1873.3 2019.2,1838.3 2021.7,1866.7 2026.7,1905.0 2036.7,1916.7 2061.7,1930.0 2078.3,1938.3 2095.0,1948.3 2111.7,1951.7 2116.7,1961.7 2120.0,1918.3 2123.3,1990.0 2128.3,1973.3 2132.5,1971.6 2136.7,1966.7 2143.3,1971.7 2147.5,1970.7 2151.7,1968.3 2155.8,1975.3 2160.0,1979.0 2165.0,1978.0 2170.0,1975.0 2171.7,1988.0 2175.0,1978.0 2179.0,1984.6 2182.8,1988.8 2186.7,1990.0 2193.4,1999.0 2197.3,1960.0 2200.5,1987.0 2204.4,1990.5 2208.4,1991.1 2212.3,1994.8 2215.9,2000.5 2219.6,2002.0 2222.5,1994.8 2228.3,2000.0 2232.7,2004.7 2237.0,2006.4 2240.6,2004.2 2244.2,2000.6 2250.0,2016.7 2254.3,2026.7 2256.5,1993.3 2260.1,2010.7 2264.4,2010.2 2268.8,2006.4 2273.2,2016.2 2277.5,2023.8 2283.3,2015.1 2287.7,2021.7 2292.0,2026.7 2296.3,2021.6 2300.7,2015.1 2303.0,2020.9" stroke="#0273b4"/>
<path d="M1276.0,1748.3 1342.7,1752.5 1417.7,1743.3 1442.7,1744.2 1479.3,1745.8 1526.0,1738.3 1567.7,1731.7 1598.0,1726.5 1631.3,1716.7 1664.7,1704.2 1698.0,1688.3 1731.3,1668.3 1745.0,1653.3 1756.3,1642.0 1770.0,1626.7 1786.7,1605.0 1801.7,1571.7 1811.7,1538.3 1816.7,1513.3 1820.0,1480.0 1825.0,1430.0 1828.3,1396.7 1830.0,1387.5 1833.3,1400.0 1840.0,1430.0 1848.3,1480.0 1855.0,1530.0 1865.0,1571.7 1878.3,1610.0 1884.7,1620.0 1895.0,1641.7 1906.0,1655.0 1920.0,1670.0 1950.0,1700.0 1978.3,1721.7 2003.3,1738.3 2011.7,1745.0 2018.3,1733.3 2026.7,1745.8 2053.3,1761.7 2086.7,1778.3 2118.3,1793.3 2122.5,1776.7 2126.7,1793.3 2130.6,1795.0 2134.5,1795.9 2138.3,1798.0 2142.2,1798.3 2146.1,1800.9 2150.0,1802.0 2154.2,1804.4 2158.3,1805.3 2162.5,1808.7 2166.7,1810.0 2170.7,1811.5 2174.7,1811.2 2178.7,1813.7 2182.7,1813.5 2186.7,1815.0 2190.8,1817.6 2195.0,1819.0 2199.2,1821.4 2203.3,1822.1 2207.5,1825.4 2211.7,1826.7 2215.3,1827.7 2218.9,1827.7 2222.5,1829.3 2226.1,1828.8 2229.7,1830.8 2233.3,1830.8 2237.5,1832.9 2241.7,1833.2 2245.8,1835.6 2250.0,1836.7 2254.2,1838.5 2258.3,1838.7 2262.5,1841.0 2266.7,1841.7 2270.8,1842.8 2275.0,1842.7 2279.2,1844.9 2283.3,1845.0 2287.2,1846.8 2291.2,1846.4 2295.1,1848.5 2299.1,1848.6 2303.0,1850.0" stroke="#e69f00"/>
<path d="M1276.0,1790.8 1284.3,1770.0 1331.8,1836.7 1371.8,1845.0 1407.7,1888.3 1438.5,1856.7 1466.0,1884.2 1491.0,1861.7 1532.7,1860.0 1556.0,1849.2 1598.0,1839.5 1623.0,1831.7 1648.0,1820.0 1681.3,1803.3 1714.7,1781.7 1739.7,1763.3 1764.7,1736.7 1781.3,1713.3 1786.7,1702.0 1798.0,1680.0 1805.0,1655.0 1815.0,1613.3 1823.3,1563.3 1828.3,1513.3 1832.5,1463.3 1835.0,1430.0 1835.8,1420.8 1837.5,1430.0 1840.0,1480.0 1845.0,1546.7 1852.0,1610.0 1863.0,1652.0 1880.0,1704.0 1898.0,1735.0 1920.0,1760.0 1953.3,1793.3 1986.7,1818.3 2010.0,1831.7 2018.3,1828.3 2023.3,1835.0 2053.3,1851.7 2086.7,1868.3 2120.0,1883.3 2120.8,1915.0 2123.3,1873.3 2127.8,1878.4 2132.2,1878.6 2136.7,1883.3 2141.1,1886.6 2145.6,1885.1 2150.0,1889.0 2154.0,1892.1 2158.0,1889.7 2162.0,1894.1 2166.0,1892.9 2170.0,1895.0 2173.6,1897.8 2177.1,1894.8 2180.7,1898.9 2184.3,1897.0 2187.9,1900.4 2191.4,1899.0 2195.0,1901.0 2196.7,1915.0 2200.0,1905.0 2203.6,1906.5 2207.1,1905.5 2210.7,1909.1 2214.3,1906.4 2217.9,1910.5 2221.4,1907.9 2225.0,1910.0 2228.6,1912.0 2232.1,1911.3 2235.7,1914.4 2239.3,1912.9 2242.9,1915.7 2246.4,1914.5 2250.0,1916.7 2253.6,1919.0 2257.1,1916.8 2260.7,1919.5 2264.3,1917.8 2267.9,1922.1 2271.4,1919.3 2275.0,1921.7 2278.5,1922.9 2282.0,1920.4 2285.5,1923.3 2289.0,1922.0 2292.5,1924.3 2296.0,1922.6 2299.5,1924.7 2303.0,1924.2" stroke="#029e73"/>
</g>
<rect x="1276.5" y="1216.5" width="1026.0" height="1023.0" fill="none" stroke="#000" stroke-width="1.1"/>
<text x="1246.3" y="2253.8" text-anchor="end" class="t">20</text>
<text x="1246.3" y="2049.2" text-anchor="end" class="t">40</text>
<text x="1246.3" y="1844.6" text-anchor="end" class="t">60</text>
<text x="1246.3" y="1640.0" text-anchor="end" class="t">80</text>
<text x="1246.3" y="1435.4" text-anchor="end" class="t">100</text>
<text x="1246.3" y="1230.8" text-anchor="end" class="t">120</text>
<text x="1410.5" y="2304.2" text-anchor="middle" class="t">0.1</text>
<text x="2014.4" y="2304.2" text-anchor="middle" class="t">1</text>
<text x="1651.2" y="1199.2" class="t">90</text>
<text x="1702.8" y="1179.5" class="t i" style="font-size:33px">o</text>
<text x="1721.1" y="1199.2" class="t">-</text>
<text x="1743.0" y="1199.2" class="t">45</text>
<text x="1794.6" y="1199.2" class="t i">D</text>
<text x="1837.9" y="1205.9" class="t i" style="font-size:36px">j</text>
<text x="1305.8" y="1292.2" class="lab">(</text>
<text transform="translate(1361.9,1299.2) scale(1.1,1)" x="-23.1" y="0" class="lab" style="font-size:88px;stroke:#000;stroke-width:1.6px">d</text>
<text x="1387.1" y="1292.2" class="lab">)</text>
</svg></body></html>
